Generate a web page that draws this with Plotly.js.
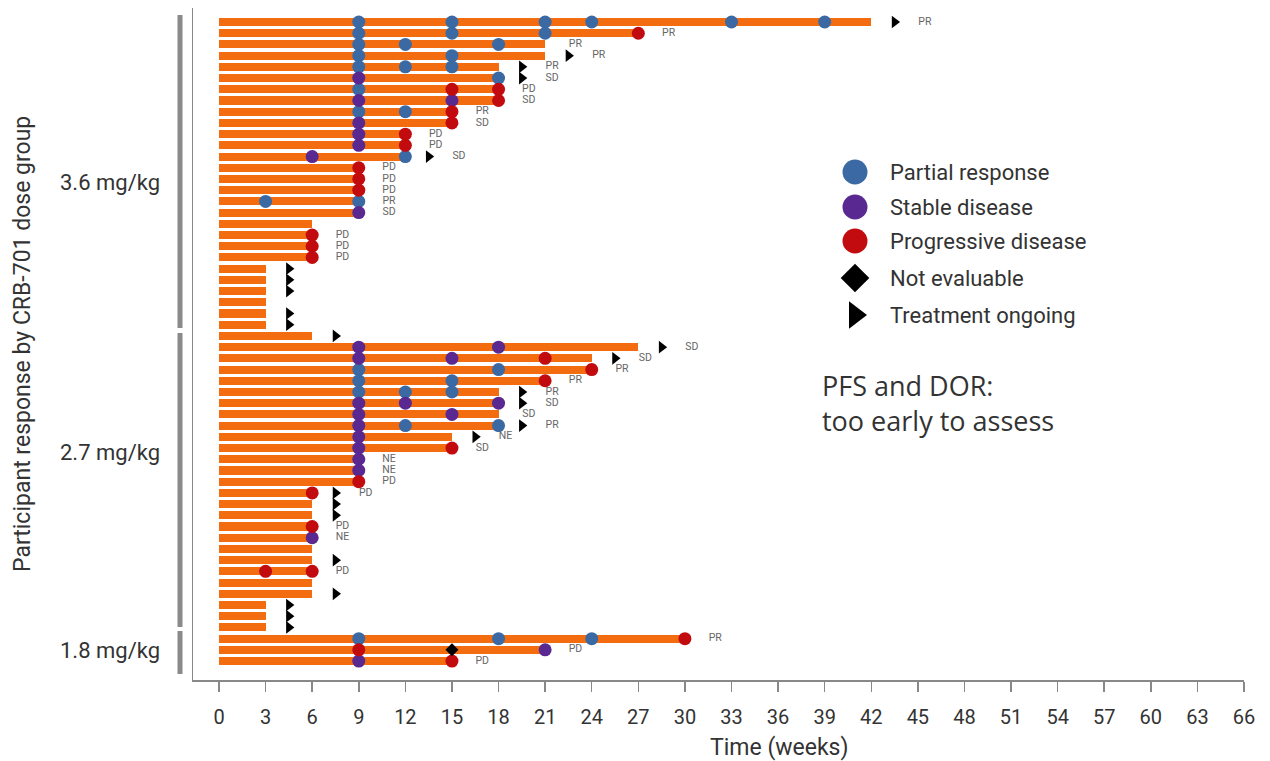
<!DOCTYPE html>
<html>
<head>
<meta charset="utf-8">
<script src="https://cdn.plot.ly/plotly-3.0.1.min.js"></script>
<style>html,body{margin:0;padding:0;background:#fff;}#chart{width:1270px;height:761px;}</style>
</head>
<body>
<div id="chart"></div>
<script>
// ---- DATA (one entry per participant row, top to bottom) ----
var durations = [42,27,21,21,18,18,18,18,15,15,12,12,12,9,9,9,9,9,6,6,6,6,3,3,3,3,3,3,
                 6,27,24,24,21,18,18,18,18,15,15,9,9,9,6,6,6,6,6,6,6,6,6,6,3,3,3,
                 30,21,15];
var partialResponse = [[9,15,21,24,33,39],[9,15,21],[9,12,18],[9,15],[9,12,15],[18],[9],[],[9,12],[],[],[],[12],[],[],[],[3,9],[],[],[],[],[],[],[],[],[],[],[],
                 [],[],[],[9,18],[9,15],[9,12,15],[],[],[12,18],[],[],[],[],[],[],[],[],[],[],[],[],[],[],[],[],[],[],
                 [9,18,24],[],[]];
var stableDisease = [[],[],[],[],[],[9],[],[9,15],[],[9],[9],[9],[6],[],[],[],[],[9],[],[],[],[],[],[],[],[],[],[],
                 [],[9,18],[9,15],[],[],[],[9,12,18],[9,15],[9],[9],[9],[9],[9],[],[],[],[],[],[6],[],[],[],[],[],[],[],[],
                 [],[21],[9]];
var progressiveDisease = [[],[27],[],[],[],[],[15,18],[18],[15],[15],[12],[12],[],[9],[9],[9],[],[],[],[6],[6],[6],[],[],[],[],[],[],
                 [],[],[21],[24],[21],[],[],[],[],[],[15],[],[],[9],[6],[],[],[6],[],[],[],[3,6],[],[],[],[],[],
                 [30],[9],[15]];
var notEvaluable = [[],[],[],[],[],[],[],[],[],[],[],[],[],[],[],[],[],[],[],[],[],[],[],[],[],[],[],[],
                 [],[],[],[],[],[],[],[],[],[],[],[],[],[],[],[],[],[],[],[],[],[],[],[],[],[],[],
                 [],[15],[]];
var ongoing = [1,0,0,1,1,1,0,0,0,0,0,0,1,0,0,0,0,0,0,0,0,0,1,1,1,0,1,1,
               1,1,1,0,0,1,1,0,1,1,0,0,0,0,1,1,1,0,0,0,1,0,0,1,1,1,1,
               0,0,0];
var bestResponse = ['PR','PR','PR','PR','PR','SD','PD','SD','PR','SD','PD','PD','SD','PD','PD','PD','PR','SD','','PD','PD','PD','','','','','','',
                 '','SD','SD','PR','PR','PR','SD','SD','PR','NE','SD','NE','NE','PD','PD','','','PD','NE','','','PD','','','','','',
                 'PR','PD','PD'];
var doseGroups = ['3.6 mg/kg','2.7 mg/kg','1.8 mg/kg'];
var legendLabels = ['Partial response','Stable disease','Progressive disease','Not evaluable','Treatment ongoing'];
var weekTicks = [0,3,6,9,12,15,18,21,24,27,30,33,36,39,42,45,48,51,54,57,60,63,66];

// ---- STYLE ----
var ORANGE = '#f36c10', BLUE = '#3a69a4', PURPLE = '#5a2891', RED = '#c20b0f';
var rows = durations.map(function(d,i){return i+1;});

function pts(list){
  var x=[],y=[];
  list.forEach(function(arr,i){arr.forEach(function(v){x.push(v);y.push(i+1);});});
  return {x:x,y:y};
}
var pr = pts(partialResponse), sd = pts(stableDisease), pd = pts(progressiveDisease), ne = pts(notEvaluable);
var arrowX=[],arrowY=[];
ongoing.forEach(function(o,i){ if(o){arrowX.push(durations[i]+1.5);arrowY.push(i+1);} });
var labX=[],labY=[],labT=[];
bestResponse.forEach(function(t,i){ if(t){labX.push(durations[i]+(ongoing[i]?3.45:1.95));labY.push(i+1);labT.push(t);} });

var traces = [
  {type:'bar',orientation:'h',x:durations,y:rows,base:0,width:0.72,
   marker:{color:ORANGE,line:{width:0}},hoverinfo:'skip'},
  {type:'scatter',mode:'markers',x:pr.x,y:pr.y,marker:{symbol:'circle',size:13,color:BLUE,opacity:1,line:{width:0}},cliponaxis:false},
  {type:'scatter',mode:'markers',x:sd.x,y:sd.y,marker:{symbol:'circle',size:13,color:PURPLE,opacity:1,line:{width:0}},cliponaxis:false},
  {type:'scatter',mode:'markers',x:pd.x,y:pd.y,marker:{symbol:'circle',size:13,color:RED,opacity:1,line:{width:0}},cliponaxis:false},
  {type:'scatter',mode:'markers',x:ne.x,y:ne.y,marker:{symbol:'diamond',size:10,color:'#000',opacity:1},cliponaxis:false},
  {type:'scatter',mode:'markers',x:arrowX,y:arrowY,marker:{symbol:'triangle-right',size:11,color:'#000',opacity:1},cliponaxis:false},
  {type:'scatter',mode:'text',x:labX,y:labY,text:labT,textposition:'middle center',
   textfont:{family:'Roboto, sans-serif',size:10.5,color:'#666'},cliponaxis:false},
  // legend symbols, on an overlay axis measured in page pixels
  {type:'scatter',mode:'markers',xaxis:'x2',yaxis:'y2',
   x:[855,855,855,855,855],y:[172,207,241,278,315],
   marker:{symbol:['circle','circle','circle','diamond','triangle-right'],size:[25,25,25,22,24],opacity:1,
           color:[BLUE,PURPLE,RED,'#000','#000'],line:{width:0}},cliponaxis:false}
];

var legendY = [172,207,241,278,315];
var annotations = legendLabels.map(function(t,i){
  return {xref:'x2',yref:'y2',x:888,y:legendY[i],text:t,showarrow:false,xanchor:'left',yanchor:'middle',
          font:{family:'Roboto, sans-serif',size:22,color:'#333'}};
});
// group labels (paper coords; plot area spans px 193..1244 x, 8..680 y)
function px2x(p){return (p-193)/1051;}
function py2y(p){return (680-p)/672;}
var groupLabelY = [183,452,650];
doseGroups.forEach(function(g,i){
  annotations.push({xref:'paper',yref:'paper',x:px2x(162),y:py2y(groupLabelY[i]),text:g,showarrow:false,
    xanchor:'right',yanchor:'middle',font:{family:'Roboto, sans-serif',size:22,color:'#333'}});
});
annotations.push({xref:'paper',yref:'paper',x:px2x(22),y:py2y(344),text:'Participant response by CRB-701 dose group',
  showarrow:false,textangle:-90,xanchor:'center',yanchor:'middle',font:{family:'Roboto, sans-serif',size:23,color:'#333'}});
annotations.push({xref:'paper',yref:'paper',x:px2x(779),y:py2y(747),text:'Time (weeks)',
  showarrow:false,xanchor:'center',yanchor:'middle',font:{family:'Roboto, sans-serif',size:23,color:'#333'}});
annotations.push({xref:'x2',yref:'y2',x:820,y:403,text:'PFS and DOR:<br>too early to assess',showarrow:false,
  xanchor:'left',yanchor:'middle',align:'left',font:{family:'"Open Sans", sans-serif',size:27,color:'#333'}});

var bracketSpans = [[15,328],[333,627],[631,674]];
var shapes = bracketSpans.map(function(s){
  return {type:'line',xref:'paper',yref:'paper',x0:px2x(180),x1:px2x(180),y0:py2y(s[0]),y1:py2y(s[1]),
          line:{color:'#8a8a8a',width:5}};
});

var layout = {
  width:1270,height:761,
  margin:{l:193,r:26,t:8,b:81},
  paper_bgcolor:'#fff',plot_bgcolor:'#fff',
  showlegend:false,bargap:0,
  xaxis:{range:[-1.674,66],tickvals:weekTicks,ticktext:weekTicks.map(String),
    showgrid:false,zeroline:false,showline:true,linecolor:'#888',linewidth:1.5,
    ticks:'outside',ticklen:10,tickcolor:'#888',tickwidth:1.5,ticklabelstandoff:8,
    tickfont:{family:'Roboto, sans-serif',size:20,color:'#333'}},
  yaxis:{range:[59.69,-0.25],showticklabels:false,ticks:'',showgrid:false,zeroline:false,
    showline:true,linecolor:'#888',linewidth:1.5},
  xaxis2:{overlaying:'x',anchor:'y2',range:[193,1244],visible:false,showgrid:false,zeroline:false},
  yaxis2:{overlaying:'y',anchor:'x2',range:[680,8],visible:false,showgrid:false,zeroline:false},
  annotations:annotations,
  shapes:shapes
};
Plotly.newPlot('chart',traces,layout,{displayModeBar:false,staticPlot:true});
</script>
</body>
</html>
